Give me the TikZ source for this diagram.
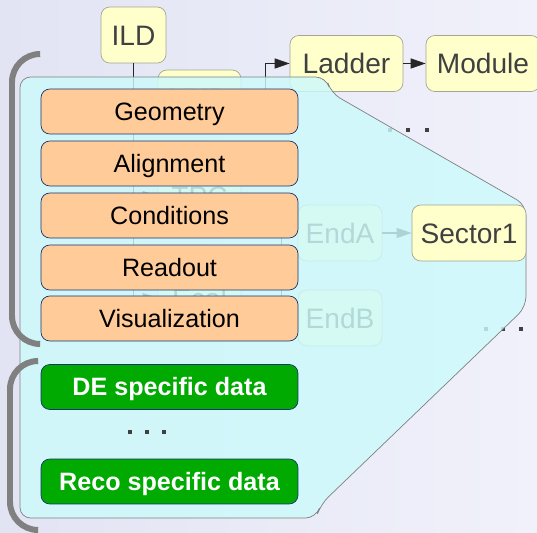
\documentclass[tikz,border=0pt]{standalone}
\usepackage{fontspec}
\setmainfont{Liberation Sans}
\usetikzlibrary{arrows.meta}
\pgfdeclarelayer{back}
\pgfdeclarelayer{mid}
\pgfsetlayers{back,mid,main}

\definecolor{bgleft}{RGB}{226,228,244}
\definecolor{bgright}{RGB}{240,241,250}
\definecolor{boxyel}{RGB}{255,255,204}
\definecolor{boxline}{RGB}{165,165,145}
\definecolor{txtgray}{RGB}{64,64,64}
\definecolor{panelcol}{RGB}{204,250,252}
\definecolor{peach}{RGB}{255,204,153}
\definecolor{navyline}{RGB}{20,50,110}
\definecolor{dkgreen}{RGB}{0,170,0}
\definecolor{brackgray}{RGB}{128,128,128}

\tikzset{
  item/.style={draw=boxline, fill=boxyel, rounded corners=5pt, text=txtgray,
    minimum height=1.12cm, inner sep=0pt, text height=11.5pt, text depth=0pt,
    font=\fontsize{16}{18}\selectfont},
  facet/.style={draw=navyline, fill=peach, rounded corners=5pt, minimum width=5.14cm,
    minimum height=0.9cm, inner sep=0pt, text height=10.2pt, text depth=0pt,
    font=\fontsize{14.3}{16}\selectfont},
  extra/.style={facet, fill=dkgreen, text=white, font=\fontsize{14.3}{16}\selectfont\bfseries},
  link/.style={draw=black!85, line width=0.6pt, -{Triangle[length=8.5pt,width=5.7pt]}},
  dot/.style={fill=txtgray, minimum size=2.8pt, inner sep=0pt},
  brack/.style={draw=brackgray, line width=3.4pt, rounded corners=16pt}
}

\begin{document}
\begin{tikzpicture}[x=0.02cm,y=-0.02cm]
\useasboundingbox (0,0) rectangle (537,533);

\begin{pgfonlayer}{back}
\shade[left color=bgleft, right color=bgright] (0,0) rectangle (537,533);
\node[item, minimum width=1.3cm] (ild) at (133.5,35) {ILD};
\node[item, minimum width=1.66cm] (vxd) at (199.5,98) {VXD};
\node[item, minimum width=1.66cm] (tpc) at (199.5,196) {TPC};
\node[item, minimum width=1.66cm] (ecal) at (199.5,298) {Ecal};
\node[item, minimum width=2.26cm] (ladder) at (346.5,63.5) {Ladder};
\node[item, minimum width=2.28cm] (module) at (483,63.5) {Module};
\node[item, minimum width=1.68cm] (endA) at (340,233) {EndA};
\node[item, minimum width=1.68cm] (endB) at (340,318) {EndB};
\foreach \x [count=\i] in {390,408,427}
  \node[dot] (topdot\i) at (\x,130) {};
\foreach \x [count=\i] in {486,503,521}
  \node[dot] (sidedot\i) at (\x,329) {};
\end{pgfonlayer}

\node[item, minimum width=2.28cm] (sector) at (469,233) {Sector1};

\begin{pgfonlayer}{back}
\draw[link] (ild.south) |- (vxd.west);
\draw[link] (ild.south) |- (tpc.west);
\draw[link] (ild.south) |- (ecal.west);
\draw[link] (vxd.east) -- ++(24,0) |- (ladder.west);
\draw[link] (ladder) -- (module);
\draw[link] (tpc.east) -- ++(40,0) |- (endA.west);
\draw[link] (tpc.east) -- ++(40,0) |- (endB.west);
\draw[link] (endA) -- (sector);
\end{pgfonlayer}

\begin{pgfonlayer}{mid}
\filldraw[fill=panelcol, fill opacity=0.82, draw=gray, rounded corners=6pt]
  (20,77) -- (326,77) -- (331,93) -- (526,205) -- (526,307)
  -- (321,504) -- (316,518) -- (20,518) -- cycle;
\end{pgfonlayer}

\node[facet] (geometry) at (169.5,111.5) {Geometry};
\node[facet] (alignment) at (169.5,163.5) {Alignment};
\node[facet] (conditions) at (169.5,215.5) {Conditions};
\node[facet] (readout) at (169.5,267.5) {Readout};
\node[facet] (visual) at (169.5,318.5) {Visualization};

\node[extra] (dedata) at (169.5,387) {DE specific data};
\foreach \x [count=\i] in {130,147,164}
  \node[dot] (middot\i) at (\x,432) {};
\node[extra] (recodata) at (169.5,481.5) {Reco specific data};

\draw[brack] (40,54) -- (12,54) -- (12,344) -- (40,344);
\draw[brack] (36,361) -- (10,361) -- (10,530) -- (36,530);
\end{tikzpicture}
\end{document}
